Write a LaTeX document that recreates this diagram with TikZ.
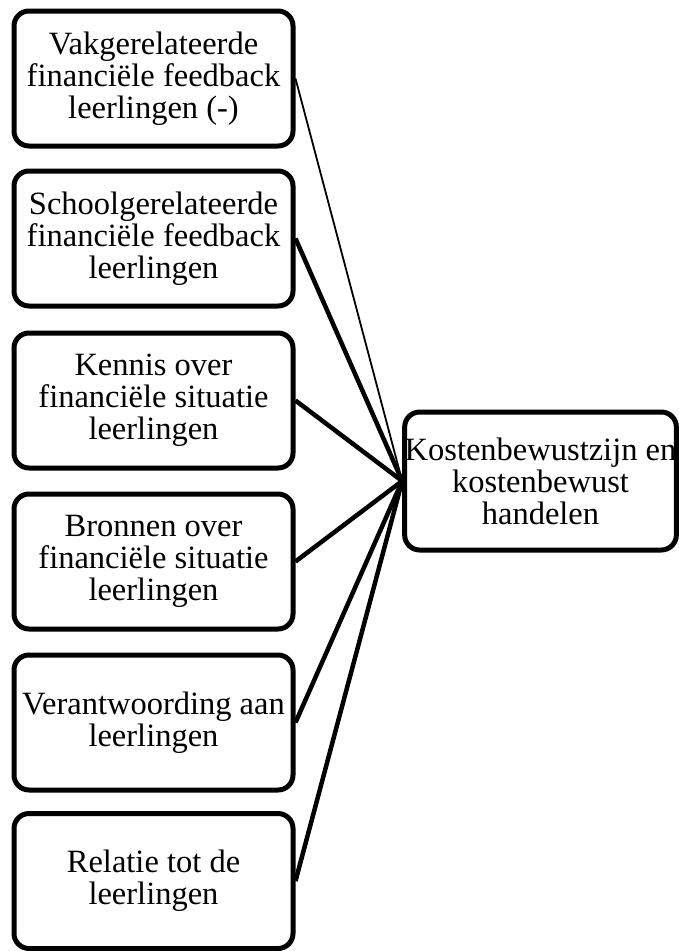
\documentclass[tikz,border=0pt]{standalone}
\usepackage{fontspec}
\setmainfont{Liberation Serif}
\begin{document}
\begin{tikzpicture}[x=1pt,y=-1pt,
  factor/.style={draw=black, line width=5pt, rounded corners=15pt, fill=white,
    minimum width=279pt, minimum height=135pt, inner sep=0pt, align=center,
    font=\fontsize{32.5}{32}\selectfont},
  outcome/.style={factor, minimum width=271pt, minimum height=138pt},
  link/.style={line width=4.5pt},
  thinlink/.style={line width=1.8pt}]
\useasboundingbox (0,0) rectangle (679,951);

% influencing factors
\node[factor] (f1) at (153.5,78.5) {Vakgerelateerde\\financiële feedback\\leerlingen (-)};
\node[factor] (f2) at (153.5,238.5) {Schoolgerelateerde\\financiële feedback\\leerlingen};
\node[factor] (f3) at (153.5,400.5) {Kennis over\\financiële situatie\\leerlingen};
\node[factor] (f4) at (153.5,561.5) {Bronnen over\\financiële situatie\\leerlingen};
\node[factor] (f5) at (153.5,722.5) {Verantwoording aan\\leerlingen};
\node[factor] (f6) at (153.5,881) {Relatie tot de\\leerlingen};

% outcome
\node[outcome] (k) at (540.5,481) {Kostenbewustzijn en\\kostenbewust\\handelen};

% connectors
\draw[thinlink] (f1.east) -- (k.west);
\foreach \n in {f2,f3,f4,f5,f6}
  \draw[link] (\n.east) -- (k.west);
\end{tikzpicture}
\end{document}
